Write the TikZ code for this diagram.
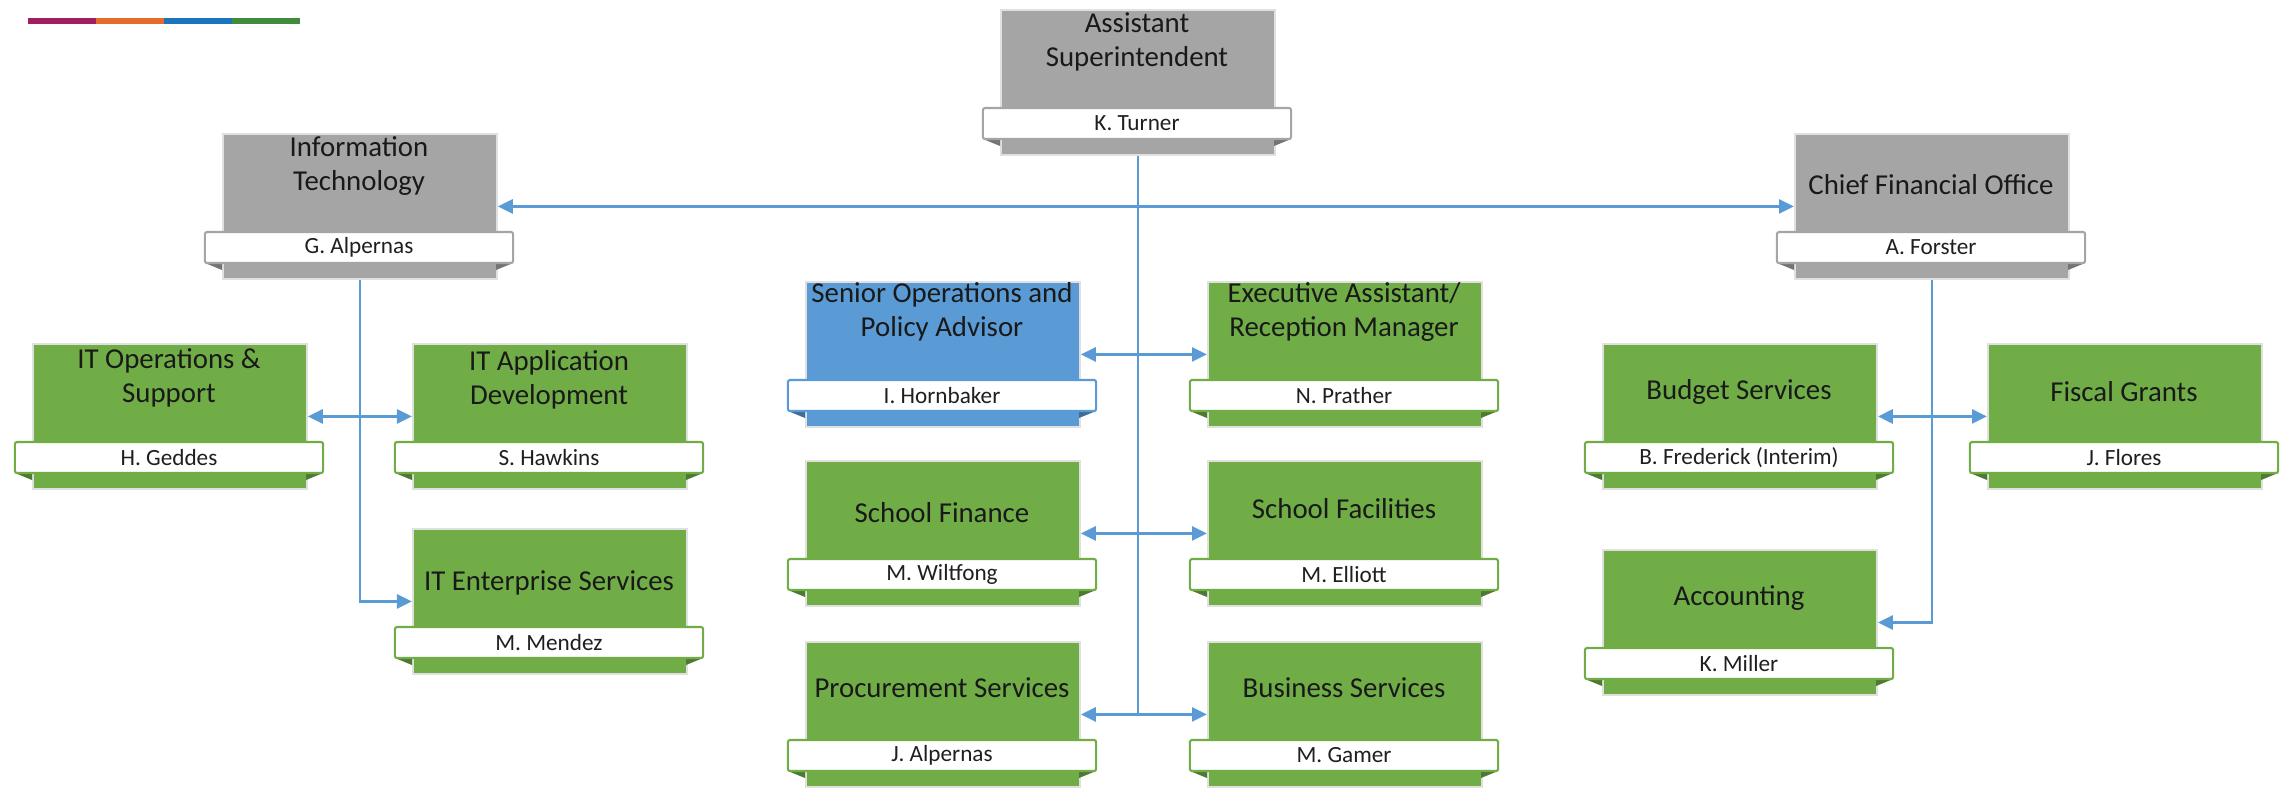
\documentclass[tikz,border=0pt]{standalone}
\usepackage{fontspec}
\setmainfont{Carlito}
\usetikzlibrary{arrows.meta}
\definecolor{gbox}{HTML}{70AD47}
\definecolor{graybox}{HTML}{A5A5A5}
\definecolor{bluebox}{HTML}{5B9BD5}
\definecolor{conncol}{HTML}{5B9BD5}
\definecolor{barA}{HTML}{A21E62}
\definecolor{barB}{HTML}{E46B2A}
\definecolor{barC}{HTML}{1B75BC}
\definecolor{barD}{HTML}{3F8C3F}
\tikzset{
  unitbox/.style={draw=black!12, line width=0.5pt, minimum width=2.74cm, minimum height=1.45cm, inner sep=0pt, anchor=north west},
  ribbon/.style={fill=white, line width=0.6pt, rounded corners=0.6pt, minimum width=3.08cm, minimum height=0.31cm, inner sep=0pt, text=black!88, font=\fontsize{6.6}{7}\selectfont},
  titletext/.style={align=center, inner sep=0pt, text=black!90, font=\fontsize{8.2}{9.5}\selectfont},
  conn/.style={draw=conncol, line width=0.8pt},
  dbl/.style={conn, {Triangle[length=0.15cm,width=0.14cm]}-{Triangle[length=0.15cm,width=0.14cm]}},
  sgl/.style={conn, -{Triangle[length=0.15cm,width=0.14cm]}},
}
\newcommand\orgbox[8]{%
  \node[unitbox, fill=#4] (#1) at (#2,#3) {};
  \fill[#4!70!black] ({#2-17},{#3+130}) -- ({#2},{#3+130}) -- ({#2},{#3+137}) -- cycle;
  \fill[#4!70!black] ({#2+291},{#3+130}) -- ({#2+274},{#3+130}) -- ({#2+274},{#3+137}) -- cycle;
  \node[ribbon, draw=#4] (#1-name) at ({#2+137},{#3+114.5}) {#8};
  \node[titletext] (#1-title) at ({#2+137},{#3+#7}) {#6};
}
\begin{document}
\begin{tikzpicture}[x=0.01cm, y=-0.01cm]
\useasboundingbox (0,0) rectangle (2282,799);
% colour bar
\fill[barA] (28,18) rectangle (96,24);
\fill[barB] (96,18) rectangle (164,24);
\fill[barC] (164,18) rectangle (232,24);
\fill[barD] (232,18) rectangle (300,24);
% boxes
\orgbox{as}{1000}{9}{graybox}{}{Assistant\\Superintendent}{33}{K. Turner}
\orgbox{it}{222}{133}{graybox}{}{Information\\Technology}{33}{G. Alpernas}
\orgbox{cfo}{1794}{133}{graybox}{}{Chief Financial Office}{52}{A. Forster}
\orgbox{itops}{32}{343}{gbox}{}{IT Operations \&\\Support}{35}{H. Geddes}
\orgbox{itapp}{412}{343}{gbox}{}{IT Application\\Development}{37}{S. Hawkins}
\orgbox{itent}{412}{528}{gbox}{}{IT Enterprise Services}{55}{M. Mendez}
\orgbox{senior}{805}{281}{bluebox}{}{Senior Operations and\\Policy Advisor}{31}{I. Hornbaker}
\orgbox{exec}{1207}{281}{gbox}{}{Executive Assistant/\\Reception Manager}{31}{N. Prather}
\orgbox{sfin}{805}{460}{gbox}{}{School Finance}{53}{M. Wiltfong}
\orgbox{sfac}{1207}{460}{gbox}{}{School Facilities}{49}{M. Elliott}
\orgbox{proc}{805}{641}{gbox}{}{Procurement Services}{47}{J. Alpernas}
\orgbox{bus}{1207}{641}{gbox}{}{Business Services}{47}{M. Gamer}
\orgbox{budget}{1602}{343}{gbox}{}{Budget Services}{49}{B. Frederick (Interim)}
\orgbox{fiscal}{1987}{343}{gbox}{}{Fiscal Grants}{49}{J. Flores}
\orgbox{acct}{1602}{549}{gbox}{}{Accounting}{49}{K. Miller}
% connectors
\draw[conn] (as.south) -- (as.south |- proc.east);
\draw[dbl] (it.east) -- (cfo.west);
\draw[dbl] (senior.east) -- (exec.west);
\draw[dbl] (sfin.east) -- (sfac.west);
\draw[dbl] (proc.east) -- (bus.west);
\draw[sgl] (it.south) |- (itent.west);
\draw[dbl] (itops.east) -- (itapp.west);
\draw[sgl] (cfo.south) |- (acct.east);
\draw[dbl] (budget.east) -- (fiscal.west);
\end{tikzpicture}
\end{document}
